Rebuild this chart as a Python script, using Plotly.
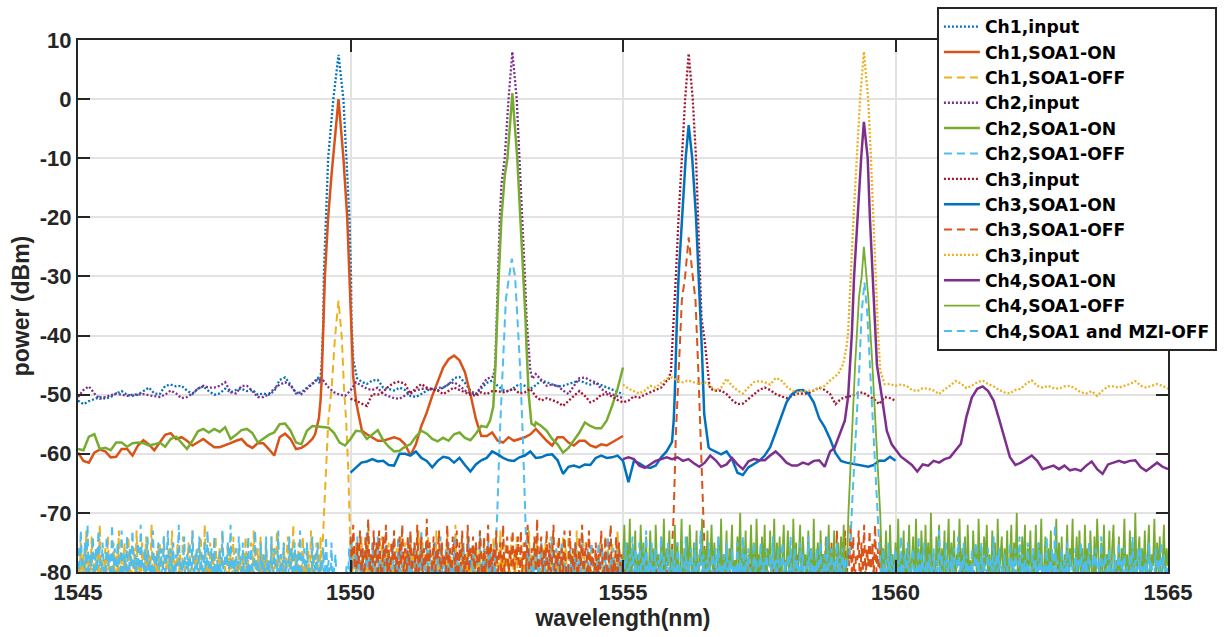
import numpy as np
import plotly.graph_objects as go

# ---------------- data (dBm) ----------------
# Smooth traces: background sampled every 0.1 nm from the start wavelength,
# channel peaks given as explicit (wavelength, power) pairs.
# Noise-floor traces: sampled every 0.025 nm.
STEP_SMOOTH = 0.1
STEP_NOISE = 0.025

ch1_in_start = 1545.0
ch1_in_base = [-51.0,-51.6,-51.1,-50.7,-50.4,-50.7,-50.4,-49.8,-49.4,-50.0,
               -50.2,-50.0,-49.4,-48.8,-49.8,-49.9,-48.5,-48.3,-48.6,-48.5,
               -49.3,-49.9,-49.0,-48.6,-49.4,-50.0,-49.8,-49.0,-49.6,-49.2,
               -49.0,-49.4,-49.2,-50.0,-49.8,-50.0,-49.4,-47.5,-47.1,-48.3,
               -49.8,-49.6,-48.8,-48.1,-47.2,-47.8,-48.0,-48.2,-48.0,-48.0,
               -47.8,-47.6,-48.5,-48.2,-47.6,-47.5,-48.8,-49.0,-49.3,-48.8,
               -49.2,-50.2,-50.4,-49.9,-49.3,-49.0,-48.8,-48.8,-48.3,-47.2,
               -47.0,-48.0,-49.3,-49.9,-49.0,-48.0,-47.6,-48.5,-49.2,-49.5,
               -48.8,-48.2,-48.5,-49.0,-48.4,-47.6,-47.9,-48.3,-48.6,-48.5,
               -48.2,-47.8,-47.6,-48.0,-48.3,-48.0,-48.4,-48.8,-49.2,-49.5,-49.9]
ch1_in_peak_wl = [1549.44,1549.47,1549.50,1549.51,1549.55,1549.59,1549.685,1549.78,
                  1549.87,1549.93,1549.98,1550.01,1550.02,1550.05,1550.12,1550.20]
ch1_in_peak_dbm = [-48.2,-44.8,-38,-30,-20,-10,0,7.5,0,-10,-20,-30,-38,-44,-47.2,-47.8]

ch1_on_start = 1545.0
ch1_on_base = [-59.8,-61.2,-61.5,-59.8,-59.3,-59.6,-60.6,-60.5,-59.2,-59.2,
               -60.3,-58.6,-57.7,-58.4,-59.4,-58.1,-56.8,-56.5,-57.5,-57.2,
               -57.8,-58.6,-58.1,-57.5,-58.2,-58.9,-58.9,-58.6,-58.2,-57.8,
               -57.5,-58.5,-59.0,-58.2,-58.2,-59.2,-60.3,-57.2,-56.6,-57.5,
               -59.2,-59.0,-58.4,-57.5,-56.9,-57.0,-57.0,-57.0,-57.0,-57.0,
               -57.0,-57.0,-56.3,-56.7,-57.2,-57.8,-57.8,-57.5,-57.2,-57.5,
               -58.4,-60.3,-58.4,-55.3,-53.0,-50.2,-47.9,-45.4,-44.0,-43.4,
               -44.2,-46.2,-49.9,-54.1,-57.0,-57.0,-56.4,-57.8,-58.1,-57.2,
               -57.8,-57.5,-57.2,-56.7,-55.8,-56.8,-57.8,-58.6,-57.2,-57.2,
               -58.1,-58.6,-57.8,-57.8,-58.6,-58.9,-58.4,-58.6,-58.1,-57.5,-57.0]
ch1_on_peak_wl = [1549.35,1549.42,1549.45,1549.47,1549.50,1549.53,1549.59,1549.65,
                  1549.78,1549.87,1549.94,1549.98,1550.01,1550.05,1550.11,1550.21]
ch1_on_peak_dbm = [-56.7,-54,-51,-47.6,-38,-30,-20,-13,0,-10,-20,-30,-40,-47,-51.6,-56.1]

ch1_off_start = 1545.0
ch1_off_noise = [
    -79,-83,-75,-81,-77,-86,-73,-80,-78,-82,-74,-84,-77,-80,-76,-83,-72,-81,-78,-85,
    -76,-80,-74,-82,-79,-84,-75,-81,-77,-83,-73,-80,-78,-86,-75,-79,-82,-74,-81,-77,
    -84,-76,-80,-73,-82,-78,-85,-75,-79,-81,-74,-83,-77,-80,-72,-84,-78,-81,-76,-82,
    -75,-83,-79,-74,-81,-77,-86,-76,-80,-73,-82,-78,-84,-75,-81,-77,-83,-74,-80,-79,
    -82,-75,-78,-84,-73,-80,-77,-85,-76,-81,-74,-79,-83,-72,-80,-78,-84,-75,-82,-77,
    -80,-74,-83,-78,-76,-85,-73,-81,-79,-82,-75,-80,-77,-84,-74,-81,-78,-86,-76,-79,
    -83,-77,-81,-74,-80,-78,-84,-75,-82,-73,-79,-81,-76,-85,-74,-80,-77,-83,-75,-81,
    -78,-84,-74,-80,-76,-82,-73,-83,-79,-77,-85,-75,-81,-78,-74,-84,-76,-80,-72,-82,
    -77,-81,-75,-86,-79,-74,-83,-78,-80,-76,-84,-73,-81,-77,-82,-75,-79,-85,-74,-80,
    -80,-80,-80,-80,-80,-80,-80,-80,-80,-80,-80,-80,-80,-80,-80,-80,-80,-80,-80,-80,
    -80,-83,-77,-81,-75,-84,-78,-80,-74,-82,-79,-76,-85,-73,-81,-78,-83,-75,-80,-77,
    -84,-76,-81,-74,-79,-82,-77,-85,-75,-80,-78,-83,-73,-81,-76,-84,-79,-74,-82,-78,
    -75,-81,-78,-85,-74,-80,-77,-83,-76,-82,-73,-79,-84,-75,-81,-77,-86,-74,-80,-78,
    -82,-76,-84,-73,-80,-78,-81,-75,-85,-77,-79,-74,-83,-76,-80,-78,-84,-72,-81,-77,
    -79,-84,-75,-81,-77,-83,-74,-80,-78,-86,-76,-82,-75,-79,-81,-74,-84,-77,-80,-76,
    -83,-75,-80,-78,-84,-74,-81,-76,-82,-79,-73,-85,-77,-80,-75,-83,-78,-81,-74,-82,
    -77,-81,-74,-84,-79,-76,-82,-75,-80,-78,-85,-73,-81,-77,-83,-76,-79,-74,-84,-78,
    -80,-76,-83,-75,-81,-78,-84,-74,-79,-82,-77,-86,-75,-80,-78,-83,-74,-81,-76,-82,
    -74,-82,-78,-80,-76,-85,-73,-81,-79,-77,-84,-75,-80,-78,-83,-74,-82,-76,-81,-79,
    -84,-77,-80,-75,-83,-78,-81,-74,-86,-76,-79,-82,-75,-80,-77,-84,-73,-81,-78,-83,
    -79]
ch1_off_peak_wl = [1549.48,1549.50,1549.52,1549.55,1549.593,1549.655,1549.716,1549.78,
                   1549.84,1549.88,1549.92,1549.96,1549.99,1550.00,1550.02]
ch1_off_peak_dbm = [-78,-73,-68.5,-62.9,-54.4,-48.8,-40.3,-34.1,-40.3,-48.8,-54.4,-62.9,-73,-80,-84]

ch2_in_start = 1545.0
ch2_in_base = [-50.4,-49.2,-48.6,-49.8,-50.7,-50.4,-50.2,-49.8,-50.0,-50.2,
               -50.0,-50.0,-49.9,-50.1,-50.3,-50.4,-50.0,-49.3,-49.8,-50.6,
               -50.4,-49.8,-49.0,-48.5,-48.8,-48.8,-48.5,-47.9,-49.6,-49.8,
               -48.5,-48.5,-49.4,-50.4,-50.4,-49.9,-49.0,-48.3,-47.9,-48.5,
               -49.6,-49.9,-49.0,-48.2,-47.4,-47.6,-48.8,-49.6,-50.0,-50.2,
               -49.3,-47.9,-48.5,-49.0,-49.2,-48.8,-49.9,-50.3,-50.6,-50.7,
               -50.2,-49.6,-49.3,-49.0,-49.0,-49.2,-49.3,-48.8,-48.2,-47.9,
               -48.5,-49.3,-49.8,-49.9,-48.5,-47.3,-47.0,-47.0,-47.0,-47.0,
               -47.0,-47.0,-47.0,-47.1,-46.5,-47.5,-48.5,-48.3,-48.5,-49.3,
               -49.9,-48.5,-47.2,-47.1,-47.6,-47.9,-49.0,-49.6,-49.9,-50.2,-50.6]
ch2_in_peak_wl = [1552.62,1552.655,1552.67,1552.69,1552.71,1552.74,1552.77,1552.83,
                  1552.90,1552.97,1553.05,1553.10,1553.16,1553.20,1553.23,1553.27,
                  1553.30,1553.34]
ch2_in_peak_dbm = [-47.0,-45,-40,-35,-30,-20,-14.4,-10,0,8,0,-10,-20,-30,-37,-42,-46,-47.3]

ch2_on_start = 1545.0
ch2_on_base = [-59.2,-59.4,-57.1,-56.7,-59.2,-59.0,-59.4,-58.1,-58.1,-58.8,
               -58.2,-58.1,-58.2,-58.6,-58.4,-58.1,-58.8,-57.5,-57.1,-58.1,
               -59.2,-57.8,-56.2,-55.8,-56.4,-55.8,-56.3,-55.5,-57.5,-56.8,
               -56.0,-55.8,-56.5,-58.1,-57.5,-56.8,-56.4,-55.0,-54.9,-56.1,
               -58.1,-58.4,-56.1,-55.3,-55.4,-55.5,-55.6,-56.5,-58.1,-58.6,
               -57.5,-56.1,-56.2,-57.5,-56.7,-56.0,-57.7,-58.8,-59.6,-59.5,
               -58.8,-58.4,-57.1,-56.1,-56.6,-57.5,-57.9,-57.3,-57.8,-56.7,
               -56.4,-57.3,-57.7,-56.6,-55.3,-54.3,-55.0,-55.0,-55.0,-55.0,
               -55.0,-55.0,-55.0,-55.0,-54.7,-55.3,-56.1,-57.5,-58.4,-59.8,
               -59.0,-57.8,-56.4,-54.7,-55.3,-55.7,-55.7,-54.4,-51.9,-49.0,-45.4]
ch2_on_peak_wl = [1552.50,1552.56,1552.62,1552.66,1552.68,1552.69,1552.72,1552.77,
                  1552.83,1552.88,1552.97,1553.06,1553.12,1553.18,1553.21,1553.23,
                  1553.27,1553.32,1553.38]
ch2_on_peak_dbm = [-55.5,-54.4,-52,-45,-39,-37,-30,-20,-13,-10,1,-10,-20,-30,-37,-42,-50,-54.9,-55.3]

ch2_off_start = 1545.0
ch2_off_noise = [
    -76,-81,-73,-79,-84,-75,-80,-72,-83,-77,-79,-74,-85,-76,-81,-73,-78,-82,-75,-80,
    -84,-74,-79,-77,-82,-72,-80,-76,-85,-75,-78,-81,-73,-83,-77,-80,-74,-86,-76,-79,
    -73,-82,-77,-80,-75,-84,-72,-79,-81,-76,-83,-74,-80,-78,-85,-73,-81,-77,-79,-75,
    -82,-76,-84,-74,-80,-78,-73,-83,-76,-81,-75,-86,-77,-79,-72,-82,-78,-80,-74,-84,
    -77,-80,-75,-83,-73,-81,-79,-76,-85,-74,-80,-77,-82,-75,-84,-73,-79,-81,-76,-83,
    -74,-85,-78,-80,-76,-82,-73,-84,-77,-79,-75,-81,-72,-83,-78,-80,-76,-85,-74,-79,
    -81,-75,-83,-77,-80,-74,-86,-76,-79,-82,-73,-80,-78,-84,-75,-81,-77,-83,-74,-80,
    -78,-82,-74,-85,-76,-79,-81,-73,-84,-77,-80,-75,-82,-78,-86,-74,-80,-76,-83,-75,
    -80,-77,-84,-73,-81,-78,-76,-83,-75,-80,-79,-85,-74,-82,-77,-80,-75,-84,-78,-81,
    -76,-83,-74,-80,-78,-85,-75,-82,-79,-77,-84,-86,-85,-87,-86,-88,-85,-79,-83,-76,
    -81,-75,-83,-77,-80,-74,-82,-78,-85,-76,-79,-81,-73,-84,-77,-80,-75,-83,-78,-81,
    -74,-82,-78,-85,-76,-80,-73,-84,-77,-81,-79,-75,-86,-78,-80,-74,-83,-76,-81,-79,
    -84,-76,-80,-74,-82,-78,-85,-75,-79,-83,-77,-80,-73,-82,-78,-84,-76,-81,-75,-80,
    -78,-83,-75,-81,-77,-86,-74,-80,-79,-82,-76,-84,-75,-80,-78,-83,-74,-81,-77,-85,
    -76,-80,-82,-75,-84,-78,-79,-74,-83,-77,-81,-76,-85,-78,-80,-73,-82,-79,-76,-84,
    -79,-75,-82,-77,-80,-76,-84,-80,-80,-80,-80,-80,-80,-80,-80,-80,-80,-80,-80,-80,
    -80,-80,-80,-80,-80,-80,-80,-80,-80,-80,-83,-76,-81,-78,-84,-75,-80,-77,-82,-79,
    -75,-83,-78,-80,-76,-85,-77,-81,-74,-82,-79,-76,-84,-78,-80,-75,-83,-77,-81,-79,
    -84,-76,-80,-78,-82,-75,-79,-83,-77,-80,-74,-85,-78,-81,-76,-83,-79,-75,-82,-80,
    -77,-81,-75,-84,-79,-76,-82,-78,-80,-74,-83,-77,-85,-76,-80,-79,-82,-75,-81,-78,
    -80]
ch2_off_peak_wl = [1552.66,1552.69,1552.74,1552.80,1552.85,1552.91,1552.96,1553.02,
                   1553.06,1553.11,1553.16,1553.21,1553.24]
ch2_off_peak_dbm = [-76,-70.8,-56.7,-44.2,-34,-30,-27,-30,-37,-45,-56.7,-70.8,-76]

ch3_in_start = 1550.0
ch3_in_base = [-50.7,-51.0,-51.5,-51.9,-49.9,-50.0,-49.5,-48.6,-48.0,-47.8,
               -48.2,-49.9,-48.9,-48.2,-48.8,-49.0,-49.3,-49.9,-49.3,-48.8,
               -49.2,-49.6,-50.0,-50.2,-49.6,-49.9,-49.4,-49.4,-49.6,-49.3,
               -49.0,-49.8,-49.6,-49.0,-50.3,-51.0,-50.6,-50.9,-51.3,-51.9,
               -51.0,-50.2,-49.4,-50.2,-51.3,-50.9,-50.0,-49.9,-50.3,-50.9,
               -51.3,-51.0,-50.3,-50.5,-50.0,-49.6,-49.2,-48.8,-47.7,-48.0,
               -48.0,-48.0,-48.0,-48.0,-48.0,-48.0,-49.0,-49.3,-49.3,-49.9,
               -50.9,-51.6,-51.5,-50.7,-50.0,-49.2,-48.8,-49.2,-49.9,-50.3,
               -50.6,-50.2,-49.8,-49.8,-49.8,-49.3,-48.8,-49.2,-49.9,-51.6,
               -50.7,-50.4,-50.2,-49.8,-49.6,-50.2,-50.7,-51.6,-50.4,-50.6,-51.0]
ch3_in_peak_wl = [1555.83,1555.88,1555.91,1555.94,1555.97,1556.02,1556.08,1556.14,
                  1556.205,1556.28,1556.34,1556.38,1556.41,1556.44,1556.50,1556.54,1556.58]
ch3_in_peak_dbm = [-47.6,-46,-41,-37,-30,-20,-10,0,7.7,0,-10,-20,-30,-37,-41,-45,-48]

ch3_on_start = 1550.0
ch3_on_base = [-63.2,-62.3,-61.5,-61.3,-60.9,-61.3,-61.2,-61.9,-62.0,-60.0,
               -60.0,-60.3,-59.6,-60.7,-61.2,-62.3,-61.2,-60.5,-60.7,-61.5,
               -60.7,-61.9,-63.0,-61.8,-61.1,-60.7,-59.6,-60.1,-60.7,-61.1,
               -61.2,-60.6,-60.3,-59.6,-60.7,-60.6,-60.2,-60.1,-61.1,-63.4,
               -62.2,-62.0,-62.3,-61.8,-61.9,-60.7,-60.3,-60.7,-60.6,-60.3,
               -61.2,-64.8,-61.2,-61.6,-62.2,-62.4,-62.0,-60.6,-59.6,-58.0,
               -58.0,-58.0,-58.0,-58.0,-58.0,-58.0,-59.2,-59.6,-60.1,-59.6,
               -60.9,-63.2,-63.6,-62.3,-61.8,-61.2,-60.3,-58.9,-56.4,-53.7,
               -51.3,-49.9,-49.3,-49.2,-49.8,-51.3,-54.0,-55.5,-57.5,-59.9,
               -61.2,-61.5,-61.7,-61.9,-62.0,-62.2,-61.9,-61.2,-61.2,-60.5,-61.2]
ch3_on_peak_wl = [1555.90,1555.93,1555.95,1555.97,1555.99,1556.02,1556.08,1556.11,
                  1556.15,1556.205,1556.27,1556.34,1556.39,1556.42,1556.45,1556.49,1556.57]
ch3_on_peak_dbm = [-58,-54.4,-50,-42,-37,-30,-20,-16.5,-10,-4.4,-10,-20,-30,-37,-43,-53.3,-58.9]

ch3_off_start = 1550.0
ch3_off_noise = [
    -74,-80,-72,-78,-83,-75,-79,-73,-81,-76,-84,-74,-78,-71,-80,-77,-82,-73,-79,-75,
    -81,-73,-77,-84,-74,-79,-72,-80,-76,-83,-75,-78,-73,-81,-77,-85,-74,-79,-72,-80,
    -76,-83,-74,-79,-73,-81,-77,-75,-84,-72,-80,-78,-74,-82,-76,-79,-71,-83,-75,-78,
    -80,-74,-82,-76,-78,-73,-85,-75,-79,-77,-81,-72,-80,-76,-83,-74,-78,-80,-73,-84,
    -75,-79,-73,-81,-77,-84,-72,-80,-76,-78,-74,-83,-75,-79,-81,-73,-77,-85,-74,-80,
    -78,-72,-83,-75,-80,-76,-79,-73,-82,-77,-75,-84,-72,-80,-78,-74,-81,-76,-79,-73,
    -82,-76,-78,-74,-85,-73,-80,-77,-75,-81,-72,-79,-83,-76,-78,-74,-80,-71,-84,-77,
    -74,-81,-76,-79,-73,-83,-75,-80,-78,-72,-84,-77,-79,-74,-82,-76,-80,-73,-78,-85,
    -79,-73,-80,-76,-82,-75,-78,-84,-74,-79,-72,-81,-77,-75,-83,-73,-80,-78,-76,-82,
    -75,-84,-77,-80,-73,-79,-81,-74,-78,-83,-76,-72,-85,-78,-80,-74,-82,-75,-79,-77,
    -82,-78,-85,-80,-76,-83,-79,-86,-77,-81,-84,-78,-80,-75,-83,-79,-86,-77,-81,-84,
    -78,-82,-80,-85,-76,-83,-79,-81,-84,-77,-80,-83,-78,-86,-80,-82,-80,-80,-80,-80,
    -80,-80,-80,-80,-80,-80,-80,-80,-80,-80,-80,-80,-80,-80,-80,-80,-80,-80,-80,-80,
    -80,-84,-79,-82,-77,-85,-80,-78,-83,-81,-76,-84,-79,-82,-86,-78,-81,-83,-77,-85,
    -80,-83,-78,-86,-81,-79,-84,-77,-82,-80,-85,-78,-83,-81,-76,-84,-80,-82,-79,-86,
    -78,-83,-81,-85,-79,-82,-77,-84,-80,-83,-78,-86,-81,-79,-84,-76,-82,-80,-85,-78,
    -83,-80,-84,-78,-82,-86,-79,-81,-77,-85,-80,-83,-78,-84,-81,-79,-86,-77,-82,-80,
    -84,-78,-81,-76,-83,-79,-85,-77,-80,-74,-82,-78,-84,-75,-81,-79,-83,-73,-80,-77,
    -82,-75,-80,-73,-84,-76,-79,-72,-81,-74,-83,-77,-78,-73,-85,-75,-80,-72,-82,-76,
    -79,-73,-84,-75,-81,-72,-80,-76,-83,-74,-78,-81,-86,-80,-84,-79,-85,-82,-86,-80,
    -84]
ch3_off_peak_wl = [1555.90,1555.93,1555.97,1556.02,1556.08,1556.14,1556.205,1556.28,
                   1556.33,1556.38,1556.42,1556.47,1556.50]
ch3_off_peak_dbm = [-76,-70.2,-56.7,-45.4,-34,-30,-23.4,-30,-34,-45.4,-56.7,-70.2,-76]

ch4_in_start = 1555.0
ch4_in_base = [-48.3,-49.0,-49.4,-49.8,-49.3,-48.5,-48.8,-48.1,-47.3,-47.1,
               -47.6,-47.9,-47.6,-47.9,-48.2,-47.9,-48.5,-49.3,-48.8,-47.3,
               -48.5,-49.3,-49.8,-48.8,-47.9,-47.7,-47.9,-48.3,-47.2,-47.5,
               -48.6,-49.3,-49.6,-49.4,-49.3,-49.3,-48.9,-48.5,-48.0,-48.0,
               -48.0,-48.0,-48.0,-48.0,-48.0,-48.0,-48.0,-48.0,-48.0,-48.2,
               -48.5,-48.3,-48.5,-49.2,-49.4,-48.9,-49.0,-49.3,-49.9,-49.1,
               -48.5,-47.7,-48.1,-48.9,-48.5,-47.9,-47.6,-48.2,-48.6,-49.2,
               -49.6,-49.8,-49.2,-49.0,-48.1,-47.6,-48.5,-48.8,-48.5,-48.9,
               -49.0,-48.6,-48.5,-49.0,-49.6,-49.8,-49.4,-50.2,-49.3,-48.6,
               -48.6,-48.8,-48.5,-48.2,-47.7,-48.5,-48.8,-48.5,-48.2,-48.5,-49.0]
ch4_in_peak_wl = [1558.80,1558.95,1559.04,1559.10,1559.13,1559.16,1559.18,1559.23,
                  1559.29,1559.35,1559.42,1559.50,1559.55,1559.59,1559.64,1559.68,
                  1559.72,1559.80]
ch4_in_peak_dbm = [-47.6,-46.5,-44.8,-42,-39.6,-33.5,-30,-20,-10,0,8,0,-10,-20,-30,-39.6,-45.9,-48.2]

ch4_on_start = 1555.0
ch4_on_base = [-60.9,-60.6,-60.9,-62.0,-62.4,-61.8,-61.2,-60.9,-60.6,-60.9,
               -60.6,-61.2,-60.9,-61.6,-62.2,-61.5,-60.3,-61.1,-62.2,-61.8,
               -60.7,-61.8,-62.6,-61.3,-60.9,-61.1,-61.1,-60.3,-59.6,-60.5,
               -61.5,-62.0,-62.0,-61.5,-61.8,-61.2,-61.1,-62.2,-59.6,-59.6,
               -59.6,-59.6,-59.6,-59.6,-59.6,-59.6,-59.6,-59.6,-59.6,-59.6,
               -59.6,-60.5,-61.2,-61.9,-63.0,-61.8,-62.0,-61.2,-61.5,-60.9,
               -60.6,-59.5,-58.3,-53.8,-50.5,-49.0,-48.6,-49.4,-51.0,-54.1,
               -57.2,-60.6,-61.9,-61.5,-60.9,-60.3,-61.2,-62.6,-62.3,-62.0,
               -62.6,-62.0,-62.8,-62.6,-62.9,-62.0,-61.3,-62.6,-63.4,-61.8,
               -61.5,-61.2,-61.5,-61.2,-61.1,-62.3,-62.9,-62.2,-61.5,-62.2,-62.6]
ch4_on_peak_wl = [1558.80,1558.88,1558.98,1559.07,1559.13,1559.17,1559.20,1559.24,
                  1559.30,1559.34,1559.37,1559.42,1559.49,1559.53,1559.58,1559.62,
                  1559.66,1559.75,1559.84,1559.93,1560.00,1560.05]
ch4_on_peak_dbm = [-59.6,-59.0,-56.7,-54.4,-50.4,-44.8,-39.6,-30,-20,-14.5,-10,-3.85,
                   -10,-20,-30,-39.6,-45,-50.4,-56.1,-58.4,-59.2,-59.8]

ch4_off_start = 1555.0
ch4_off_noise = [
    -78,-72,-83,-75,-80,-71,-84,-76,-79,-73,-85,-77,-81,-72,-80,-75,-83,-74,-86,-78,
    -73,-81,-76,-84,-72,-79,-77,-85,-74,-80,-71,-83,-76,-79,-73,-82,-78,-84,-72,-80,
    -75,-83,-79,-71,-85,-76,-80,-74,-82,-72,-78,-84,-75,-81,-73,-86,-77,-79,-71,-83,
    -76,-80,-73,-84,-78,-72,-82,-75,-79,-85,-74,-81,-71,-83,-77,-80,-73,-86,-76,-79,
    -72,-84,-78,-81,-74,-79,-70,-83,-76,-80,-73,-85,-77,-79,-72,-82,-75,-84,-71,-80,
    -77,-83,-74,-80,-72,-86,-76,-79,-73,-82,-78,-71,-84,-75,-80,-74,-83,-77,-72,-85,
    -79,-73,-81,-76,-84,-71,-80,-75,-83,-78,-72,-85,-74,-79,-77,-82,-73,-80,-76,-84,
    -71,-82,-78,-75,-83,-73,-80,-77,-86,-74,-79,-72,-84,-76,-81,-73,-85,-78,-75,-82,
    -74,-80,-72,-83,-78,-80,-80,-80,-80,-80,-80,-80,-80,-80,-80,-80,-80,-80,-80,-80,
    -80,-80,-80,-80,-80,-80,-80,-80,-80,-80,-84,-76,-81,-73,-79,-85,-72,-80,-77,-83,
    -75,-81,-71,-84,-77,-79,-73,-86,-76,-80,-72,-83,-78,-74,-85,-71,-80,-76,-82,-73,
    -79,-84,-72,-80,-75,-83,-70,-81,-77,-85,-74,-79,-72,-83,-76,-80,-73,-86,-78,-71,
    -82,-75,-80,-73,-84,-77,-79,-71,-83,-76,-81,-74,-85,-72,-80,-78,-84,-73,-79,-76,
    -83,-71,-80,-76,-85,-74,-79,-72,-82,-77,-84,-73,-80,-75,-86,-71,-81,-78,-74,-83,
    -76,-80,-73,-85,-78,-72,-83,-75,-79,-70,-84,-77,-81,-74,-80,-72,-86,-76,-79,-73,
    -84,-77,-80,-72,-83,-75,-79,-71,-85,-78,-74,-82,-76,-80,-73,-84,-77,-79,-71,-83,
    -75,-81,-74,-86,-77,-80,-72,-83,-76,-79,-71,-85,-78,-74,-82,-73,-80,-76,-84,-72,
    -80,-76,-83,-73,-79,-85,-74,-81,-71,-78,-84,-75,-80,-72,-83,-77,-79,-73,-86,-76,
    -72,-83,-78,-80,-74,-85,-76,-79,-71,-82,-77,-84,-73,-80,-75,-83,-70,-81,-78,-74,
    -85,-76,-80,-73,-83,-78,-72,-84,-77,-79,-71,-82,-75,-80,-74,-86,-77,-72,-81,-76,
    -79]
ch4_off_peak_wl = [1559.12,1559.135,1559.20,1559.26,1559.33,1559.38,1559.42,1559.46,
                   1559.50,1559.575,1559.64,1559.72,1559.74]
ch4_off_peak_dbm = [-76,-70.2,-56.1,-44.8,-33.5,-30,-25,-30,-33.5,-44.8,-56.1,-70.2,-76]

ch4_mzi_start = 1555.0
ch4_mzi_noise = [
    -78,-82,-75,-80,-84,-77,-79,-74,-83,-76,-81,-85,-75,-79,-82,-76,-80,-73,-84,-78,
    -81,-75,-83,-79,-76,-85,-78,-80,-74,-82,-77,-84,-79,-75,-81,-86,-76,-80,-78,-83,
    -75,-80,-84,-77,-79,-82,-74,-85,-78,-81,-76,-83,-80,-75,-86,-78,-79,-73,-82,-77,
    -84,-78,-80,-75,-83,-79,-77,-86,-76,-81,-74,-82,-79,-84,-77,-80,-75,-83,-78,-81,
    -76,-83,-79,-81,-75,-85,-78,-80,-74,-84,-77,-82,-76,-80,-79,-86,-75,-81,-78,-83,
    -80,-75,-84,-78,-82,-76,-79,-85,-77,-80,-74,-83,-78,-81,-76,-84,-79,-75,-82,-78,
    -83,-77,-80,-74,-85,-79,-76,-82,-78,-84,-75,-80,-77,-86,-79,-81,-74,-83,-76,-80,
    -79,-84,-76,-81,-78,-75,-83,-80,-77,-85,-74,-82,-79,-76,-84,-78,-80,-75,-83,-77,
    -82,-76,-80,-78,-84,-77,-80,-80,-80,-80,-80,-80,-80,-80,-80,-80,-80,-80,-80,-80,
    -80,-80,-80,-80,-80,-80,-80,-80,-80,-79,-84,-76,-82,-78,-80,-75,-85,-77,-81,-79,
    -76,-83,-78,-80,-74,-85,-79,-77,-82,-75,-80,-84,-78,-76,-83,-79,-81,-74,-86,-77,
    -80,-75,-84,-78,-81,-77,-83,-79,-76,-85,-78,-80,-73,-82,-77,-84,-79,-75,-81,-78,
    -83,-77,-80,-76,-85,-79,-74,-82,-78,-81,-75,-84,-77,-80,-79,-86,-76,-82,-78,-75,
    -81,-78,-84,-75,-80,-77,-83,-79,-76,-85,-78,-81,-74,-83,-77,-80,-76,-84,-79,-82,
    -77,-83,-79,-81,-75,-84,-78,-80,-76,-86,-79,-74,-82,-77,-81,-78,-85,-75,-80,-83,
    -79,-76,-82,-78,-84,-75,-80,-77,-83,-79,-81,-74,-85,-78,-80,-76,-83,-72,-81,-78,
    -84,-79,-76,-82,-78,-80,-75,-85,-77,-81,-79,-83,-76,-80,-78,-84,-75,-82,-77,-80,
    -78,-82,-75,-80,-84,-77,-79,-76,-83,-78,-81,-74,-85,-79,-77,-82,-80,-76,-84,-78,
    -81,-77,-83,-79,-75,-84,-78,-80,-76,-82,-79,-85,-77,-80,-74,-83,-78,-81,-76,-80,
    -76,-84,-79,-81,-77,-83,-75,-80,-78,-85,-79,-76,-82,-78,-80,-75,-84,-77,-81,-79,
    -80]
ch4_mzi_peak_wl = [1559.15,1559.17,1559.21,1559.28,1559.34,1559.38,1559.43,1559.48,
                   1559.53,1559.59,1559.655,1559.70,1559.72]
ch4_mzi_peak_dbm = [-77,-75.9,-67.4,-56.1,-44.8,-36,-31,-36,-44.8,-56.1,-67.4,-75.9,-77]

x_ticks = [1545, 1550, 1555, 1560, 1565]
y_ticks = [10, 0, -10, -20, -30, -40, -50, -60, -70, -80]

# ---------------- styling ----------------
BLUE, ORANGE, YELLOW = "#0072BD", "#D95319", "#EDB120"
PURPLE, GREEN, LIGHTBLUE, DARKRED = "#7E2F8E", "#77AC30", "#4DBEEE", "#A2142F"
AXIS = "#262626"
DOT = "2px,2px"
DASH = "8px,5px"


def build(start, step, base, peak_wl, peak_dbm):
    """Merge a uniformly sampled background with the explicit peak points."""
    wl = start + step * np.arange(len(base))
    p = np.asarray(base, dtype=float)
    keep = (wl < peak_wl[0]) | (wl > peak_wl[-1])
    wl = np.concatenate([wl[keep], peak_wl])
    p = np.concatenate([p[keep], peak_dbm])
    order = np.argsort(wl, kind="stable")
    return wl[order], p[order]


series = [
    ("Ch1,input", ch1_in_start, STEP_SMOOTH, ch1_in_base, ch1_in_peak_wl, ch1_in_peak_dbm, BLUE, DOT, 2.3),
    ("Ch1,SOA1-ON", ch1_on_start, STEP_SMOOTH, ch1_on_base, ch1_on_peak_wl, ch1_on_peak_dbm, ORANGE, "solid", 2.5),
    ("Ch1,SOA1-OFF", ch1_off_start, STEP_NOISE, ch1_off_noise, ch1_off_peak_wl, ch1_off_peak_dbm, YELLOW, DASH, 2.0),
    ("Ch2,input", ch2_in_start, STEP_SMOOTH, ch2_in_base, ch2_in_peak_wl, ch2_in_peak_dbm, PURPLE, DOT, 2.3),
    ("Ch2,SOA1-ON", ch2_on_start, STEP_SMOOTH, ch2_on_base, ch2_on_peak_wl, ch2_on_peak_dbm, GREEN, "solid", 2.5),
    ("Ch2,SOA1-OFF", ch2_off_start, STEP_NOISE, ch2_off_noise, ch2_off_peak_wl, ch2_off_peak_dbm, LIGHTBLUE, DASH, 2.0),
    ("Ch3,input", ch3_in_start, STEP_SMOOTH, ch3_in_base, ch3_in_peak_wl, ch3_in_peak_dbm, DARKRED, DOT, 2.3),
    ("Ch3,SOA1-ON", ch3_on_start, STEP_SMOOTH, ch3_on_base, ch3_on_peak_wl, ch3_on_peak_dbm, BLUE, "solid", 2.5),
    ("Ch3,SOA1-OFF", ch3_off_start, STEP_NOISE, ch3_off_noise, ch3_off_peak_wl, ch3_off_peak_dbm, ORANGE, DASH, 2.0),
    ("Ch3,input", ch4_in_start, STEP_SMOOTH, ch4_in_base, ch4_in_peak_wl, ch4_in_peak_dbm, YELLOW, DOT, 2.3),
    ("Ch4,SOA1-ON", ch4_on_start, STEP_SMOOTH, ch4_on_base, ch4_on_peak_wl, ch4_on_peak_dbm, PURPLE, "solid", 2.5),
    ("Ch4,SOA1-OFF", ch4_off_start, STEP_NOISE, ch4_off_noise, ch4_off_peak_wl, ch4_off_peak_dbm, GREEN, "solid", 1.8),
    ("Ch4,SOA1 and MZI-OFF", ch4_mzi_start, STEP_NOISE, ch4_mzi_noise, ch4_mzi_peak_wl, ch4_mzi_peak_dbm, LIGHTBLUE, DASH, 2.0),
]

fig = go.Figure()
for name, start, step, base, pk_wl, pk_dbm, color, dash, width in series:
    wl, p = build(start, step, base, pk_wl, pk_dbm)
    fig.add_trace(go.Scatter(
        x=wl, y=p, mode="lines", name=name,
        line=dict(color=color, dash=dash, width=width),
        hoverinfo="skip",
    ))

tick_font = dict(family="Liberation Sans, Arial, sans-serif", size=22, color=AXIS, weight="bold")
title_font = dict(family="Liberation Sans, Arial, sans-serif", size=23, color=AXIS, weight="bold")

fig.update_layout(
    width=1230, height=637,
    margin=dict(l=78, r=62, t=40, b=65, autoexpand=False),
    paper_bgcolor="white", plot_bgcolor="white",
    showlegend=True,
    legend=dict(
        x=0.788, xref="paper", y=1 - 7 / 637, yref="container",
        xanchor="left", yanchor="top",
        bgcolor="white", bordercolor=AXIS, borderwidth=2,
        font=dict(family="DejaVu Sans, sans-serif", size=17.2, color="black", weight="bold"),
        itemwidth=36, tracegroupgap=0, maxheight=420,
        entrywidth=262, entrywidthmode="pixels",
    ),
)
fig.update_xaxes(
    range=[1545, 1565], tickvals=x_ticks, ticktext=[str(v) for v in x_ticks],
    ticks="inside", ticklen=12, tickwidth=2, tickcolor=AXIS,
    showline=True, linecolor=AXIS, linewidth=2, mirror="ticks",
    showgrid=True, gridcolor="#e2e2e2", gridwidth=1.5, zeroline=False,
    tickfont=tick_font, automargin=False,
    title=dict(text="wavelength(nm)", font=title_font, standoff=4),
)
fig.update_yaxes(
    range=[-80, 10], tickvals=y_ticks, ticktext=[str(v) for v in y_ticks],
    ticks="inside", ticklen=12, tickwidth=2, tickcolor=AXIS,
    showline=True, linecolor=AXIS, linewidth=2, mirror="ticks",
    showgrid=True, gridcolor="#e2e2e2", gridwidth=1.5, zeroline=False,
    tickfont=tick_font, automargin=False,
    title=dict(text="power (dBm)", font=title_font, standoff=4),
)

fig.write_html("out.html", config={"displayModeBar": False})
